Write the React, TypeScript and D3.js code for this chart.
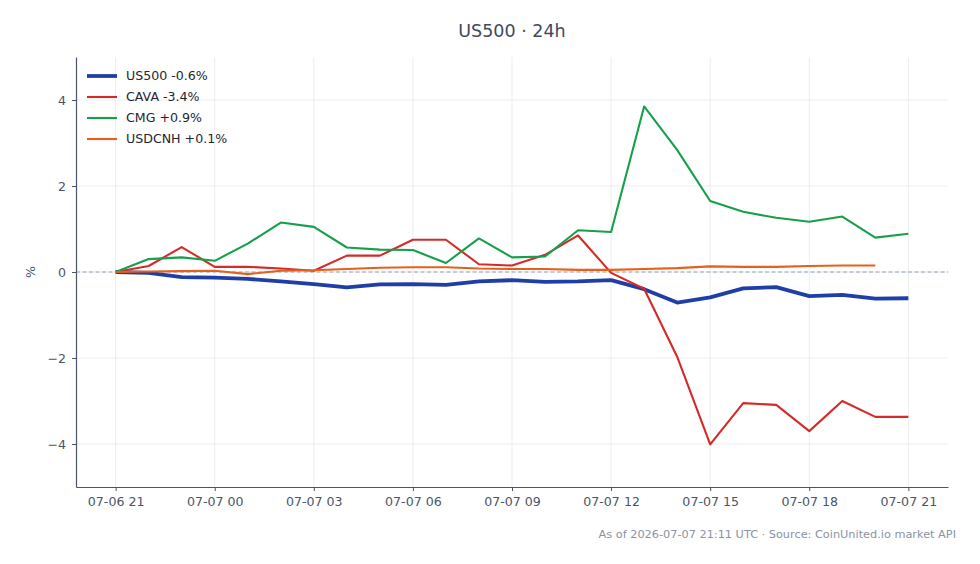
import { useEffect, useRef } from "react";
import * as d3 from "d3";

// hourly closes, 2026-07-06 21:00 UTC onwards, % change from the first hour
const START = Date.UTC(2026, 6, 6, 21);
const HOURS = d3.range(25).map((i) => new Date(START + i * 3600e3));

const us500 = [
  0.0, -0.02, -0.12, -0.13, -0.16, -0.22, -0.28, -0.36, -0.29, -0.28, -0.3, -0.22, -0.19,
  -0.23, -0.22, -0.19, -0.4, -0.71, -0.59, -0.38, -0.35, -0.56, -0.53, -0.62, -0.61,
];
const cava = [
  0.0, 0.14, 0.58, 0.12, 0.12, 0.08, 0.03, 0.38, 0.38, 0.75, 0.75, 0.18, 0.15, 0.4, 0.85,
  -0.02, -0.39, -1.97, -4.01, -3.05, -3.09, -3.7, -3.0, -3.37, -3.37,
];
const cmg = [
  0.0, 0.3, 0.34, 0.26, 0.66, 1.15, 1.05, 0.57, 0.52, 0.51, 0.21, 0.78, 0.34, 0.36, 0.97,
  0.93, 3.85, 2.84, 1.65, 1.4, 1.26, 1.17, 1.29, 0.8, 0.89,
];
const usdcnh = [
  0.0, 0.01, 0.02, 0.03, -0.05, 0.03, 0.04, 0.07, 0.1, 0.11, 0.11, 0.08, 0.07, 0.07, 0.05,
  0.05, 0.07, 0.09, 0.13, 0.12, 0.12, 0.14, 0.15, 0.15,
];

const series = [
  { name: "US500", values: us500, color: "#1f3fa6", width: 3.8 },
  { name: "CAVA", values: cava, color: "#d42a2a", width: 2.1 },
  { name: "CMG", values: cmg, color: "#17a04a", width: 2.1 },
  { name: "USDCNH", values: usdcnh, color: "#e4601c", width: 2.1 },
];

const yTicks = [-4, -2, 0, 2, 4];
const title = "US500 · 24h";
const footer = "As of 2026-07-07 21:11 UTC · Source: CoinUnited.io market API";

const FONT = "'DejaVu Sans', sans-serif";
const INK = "#4a5568";

export default function App() {
  const ref = useRef<SVGSVGElement>(null);

  useEffect(() => {
    const width = 980;
    const height = 564;
    const margin = { top: 57, right: 32, bottom: 77, left: 76 };

    const svg = d3.select(ref.current);
    svg.selectAll("*").remove();
    svg.attr("viewBox", `0 0 ${width} ${height}`);

    const pad = 1.2 * 3600e3;
    const x = d3
      .scaleUtc()
      .domain([START - pad, +HOURS[24] + pad])
      .range([margin.left, width - margin.right]);

    const y = d3
      .scaleLinear()
      .domain([-5, 5])
      .range([height - margin.bottom, margin.top]);

    const xTicks = HOURS.filter((_, i) => i % 3 === 0);

    // grid
    const grid = svg.append("g").attr("stroke", "#e6e9ee").attr("stroke-width", 0.8);
    grid
      .selectAll("line.v")
      .data(xTicks)
      .join("line")
      .attr("class", "v")
      .attr("x1", (d) => x(d))
      .attr("x2", (d) => x(d))
      .attr("y1", margin.top)
      .attr("y2", height - margin.bottom);
    grid
      .selectAll("line.h")
      .data(yTicks)
      .join("line")
      .attr("class", "h")
      .attr("x1", margin.left)
      .attr("x2", width - margin.right)
      .attr("y1", (d) => y(d))
      .attr("y2", (d) => y(d));

    // zero reference
    svg
      .append("line")
      .attr("x1", margin.left)
      .attr("x2", width - margin.right)
      .attr("y1", y(0))
      .attr("y2", y(0))
      .attr("stroke", "#94a0b8")
      .attr("stroke-width", 1)
      .attr("stroke-dasharray", "4,2.5");

    // series
    const line = d3
      .line<number>()
      .x((_, i) => x(HOURS[i]))
      .y((d) => y(d));

    svg
      .append("g")
      .selectAll("path")
      .data(series)
      .join("path")
      .attr("fill", "none")
      .attr("stroke", (d) => d.color)
      .attr("stroke-width", (d) => d.width)
      .attr("stroke-linejoin", "round")
      .attr("d", (d) => line(d.values));

    // axes
    svg
      .append("g")
      .attr("transform", `translate(0,${height - margin.bottom})`)
      .call(
        d3
          .axisBottom(x)
          .tickValues(xTicks)
          .tickSizeInner(4)
          .tickSizeOuter(0)
          .tickPadding(6)
          .tickFormat((d) => d3.utcFormat("%m-%d %H")(d as Date)),
      )
      .call((g) => g.select(".domain").attr("stroke", INK).attr("stroke-width", 1.2))
      .call((g) => g.selectAll(".tick line").attr("stroke", INK))
      .call((g) =>
        g
          .selectAll("text")
          .attr("fill", INK)
          .attr("font-family", FONT)
          .attr("font-size", 12.6),
      );

    svg
      .append("g")
      .attr("transform", `translate(${margin.left},0)`)
      .call(
        d3
          .axisLeft(y)
          .tickValues(yTicks)
          .tickSizeInner(4)
          .tickSizeOuter(0)
          .tickPadding(6)
          .tickFormat((d) => d3.format("d")(d as number).replace("-", "−")),
      )
      .call((g) => g.select(".domain").attr("stroke", INK).attr("stroke-width", 1.2))
      .call((g) => g.selectAll(".tick line").attr("stroke", INK))
      .call((g) =>
        g
          .selectAll("text")
          .attr("fill", INK)
          .attr("font-family", FONT)
          .attr("font-size", 12.6),
      );

    svg
      .append("text")
      .attr("transform", `translate(35,${y(0)}) rotate(-90)`)
      .attr("text-anchor", "middle")
      .attr("fill", INK)
      .attr("font-family", FONT)
      .attr("font-size", 12.6)
      .text("%");

    // title and footer
    svg
      .append("text")
      .attr("x", 512)
      .attr("y", 37)
      .attr("text-anchor", "middle")
      .attr("fill", "#3f4a5c")
      .attr("font-family", FONT)
      .attr("font-size", 17.5)
      .text(title);

    svg
      .append("text")
      .attr("x", 956)
      .attr("y", 538)
      .attr("text-anchor", "end")
      .attr("fill", "#8a93a3")
      .attr("font-family", FONT)
      .attr("font-size", 11.3)
      .text(footer);

    // legend
    const legend = svg
      .append("g")
      .selectAll("g")
      .data(series)
      .join("g")
      .attr("transform", (_, i) => `translate(87,${76 + i * 21})`);
    legend
      .append("line")
      .attr("x1", 0)
      .attr("x2", 30)
      .attr("stroke", (d) => d.color)
      .attr("stroke-width", (d) => d.width);
    legend
      .append("text")
      .attr("x", 39)
      .attr("dy", "0.35em")
      .attr("fill", "#1f2530")
      .attr("font-family", FONT)
      .attr("font-size", 12.6)
      .text((d) => {
        const last = d.values[d.values.length - 1];
        return `${d.name} ${last >= 0 ? "+" : ""}${last.toFixed(1)}%`;
      });
  }, []);

  return (
    <div style={{ position: "absolute", left: 0, top: 0, background: "#fff" }}>
      <svg ref={ref} width={980} height={564} style={{ display: "block" }} />
    </div>
  );
}
